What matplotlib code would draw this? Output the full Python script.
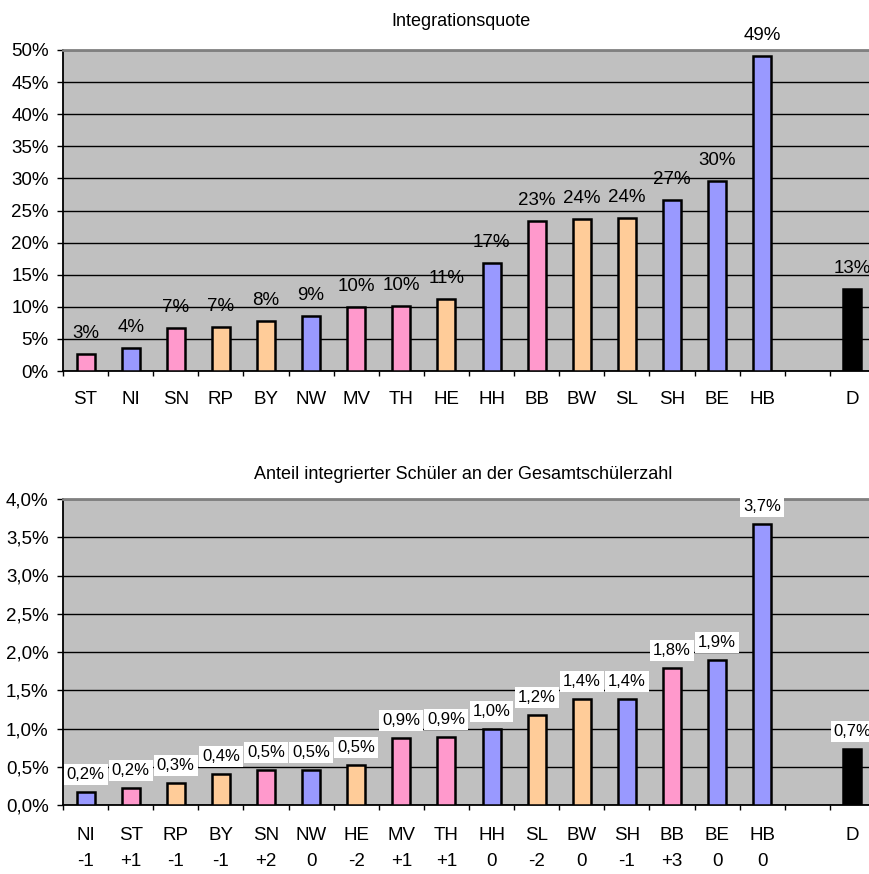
import matplotlib
matplotlib.use('Agg')
import matplotlib.pyplot as plt
import numpy as np

plt.rcParams['font.family'] = ['Liberation Sans', 'DejaVu Sans']

# ---------------- data ----------------
top_title = 'Integrationsquote'
top_states = ['ST', 'NI', 'SN', 'RP', 'BY', 'NW', 'MV', 'TH', 'HE', 'HH',
              'BB', 'BW', 'SL', 'SH', 'BE', 'HB', '', 'D']
top_values = [2.6, 3.6, 6.7, 6.9, 7.8, 8.6, 9.9, 10.1, 11.2, 16.9,
              23.3, 23.6, 23.9, 26.6, 29.6, 49.0, None, 12.8]
top_groups = ['p', 'b', 'p', 'o', 'o', 'b', 'p', 'p', 'o', 'b',
              'p', 'o', 'o', 'b', 'b', 'b', '', 'k']
top_yticks = [0, 5, 10, 15, 20, 25, 30, 35, 40, 45, 50]
top_yticklabels = ['0%', '5%', '10%', '15%', '20%', '25%', '30%', '35%', '40%', '45%', '50%']

bot_title = 'Anteil integrierter Schüler an der Gesamtschülerzahl'
bot_states = ['NI', 'ST', 'RP', 'BY', 'SN', 'NW', 'HE', 'MV', 'TH', 'HH',
              'SL', 'BW', 'SH', 'BB', 'BE', 'HB', '', 'D']
bot_changes = ['-1', '+1', '-1', '-1', '+2', '0', '-2', '+1', '+1', '0',
               '-2', '0', '-1', '+3', '0', '0', '', '']
bot_values = [0.17, 0.22, 0.29, 0.40, 0.46, 0.46, 0.52, 0.87, 0.89, 0.99,
              1.18, 1.39, 1.39, 1.79, 1.90, 3.67, None, 0.73]
bot_groups = ['b', 'p', 'o', 'o', 'p', 'b', 'o', 'p', 'p', 'b',
              'o', 'o', 'b', 'p', 'b', 'b', '', 'k']
bot_yticks = [0.0, 0.5, 1.0, 1.5, 2.0, 2.5, 3.0, 3.5, 4.0]
bot_yticklabels = ['0,0%', '0,5%', '1,0%', '1,5%', '2,0%', '2,5%', '3,0%', '3,5%', '4,0%']

group_colors = {'p': '#FF99CC', 'b': '#9999FF', 'o': '#FFCC99', 'k': '#000000'}

# ---------------- layout ----------------
W, H = 870, 874
fig = plt.figure(figsize=(W / 100, H / 100), dpi=100)
PX = 72 / 100  # points per pixel
FS = 13.5


def rect(l, t, r, b):
    return [l / W, 1 - b / H, (r - l) / W, (b - t) / H]


ax1 = fig.add_axes(rect(63, 50, 875, 371))
ax2 = fig.add_axes(rect(63, 499, 875, 805))


def style(ax, yticks, yticklabels, xlabels, xpad):
    n = len(xlabels)
    ax.set_facecolor('#C0C0C0')
    ax.set_xlim(-0.5, n - 0.5)
    ax.set_ylim(yticks[0], yticks[-1])
    ax.set_yticks(yticks)
    ax.set_yticklabels(yticklabels, fontsize=FS)
    ax.set_xticks(np.arange(n))
    ax.set_xticklabels(xlabels, fontsize=FS, linespacing=1.7)
    ax.set_xticks(np.arange(n + 1) - 0.5, minor=True)
    ax.tick_params(axis='x', which='major', length=0, pad=xpad)
    ax.tick_params(axis='x', which='minor', length=5 * PX, width=1, direction='out')
    ax.tick_params(axis='y', which='major', length=6 * PX, width=1, pad=6.0, direction='out')
    ax.yaxis.grid(True, color='black', linewidth=1.0)
    ax.set_axisbelow(True)
    ax.spines['top'].set_color('#808080')
    ax.spines['top'].set_linewidth(2.0)
    ax.spines['left'].set_color('black')
    ax.spines['left'].set_linewidth(1.3)
    ax.spines['bottom'].set_color('black')
    ax.spines['bottom'].set_linewidth(1.3)
    ax.spines['right'].set_visible(False)


def draw_bars(ax, values, groups):
    xs = [i for i, v in enumerate(values) if v is not None]
    hs = [values[i] for i in xs]
    cs = [group_colors[groups[i]] for i in xs]
    ax.bar(xs, hs, width=0.4, color=cs, edgecolor='black', linewidth=1.8, zorder=3)
    return xs, hs


# top chart
style(ax1, top_yticks, top_yticklabels, top_states, 14.5)
xs, hs = draw_bars(ax1, top_values, top_groups)
for x, v in zip(xs, hs):
    ax1.annotate(f'{round(v):d}%', (x, v), xytext=(0, 16 * PX), textcoords='offset points',
                 ha='center', va='baseline', fontsize=FS, zorder=5, annotation_clip=False)

# bottom chart
bot_labels = [f'{s}\n{c}' for s, c in zip(bot_states, bot_changes)]
style(ax2, bot_yticks, bot_yticklabels, bot_labels, 16)
xs, hs = draw_bars(ax2, bot_values, bot_groups)
for x, v in zip(xs, hs):
    ax2.annotate(f'{v:.1f}%'.replace('.', ','), (x, v), xytext=(0, 10 * PX),
                 textcoords='offset points', ha='center', va='bottom', fontsize=12,
                 zorder=5, annotation_clip=False,
                 bbox=dict(boxstyle='square,pad=0.18', facecolor='white', edgecolor='none'))

fig.text(461 / W, 1 - 25.7 / H, top_title, ha='center', va='baseline', fontsize=13)
fig.text(463 / W, 1 - 479.3 / H, bot_title, ha='center', va='baseline', fontsize=13)

fig.savefig('out.png', dpi=100, facecolor='white')
